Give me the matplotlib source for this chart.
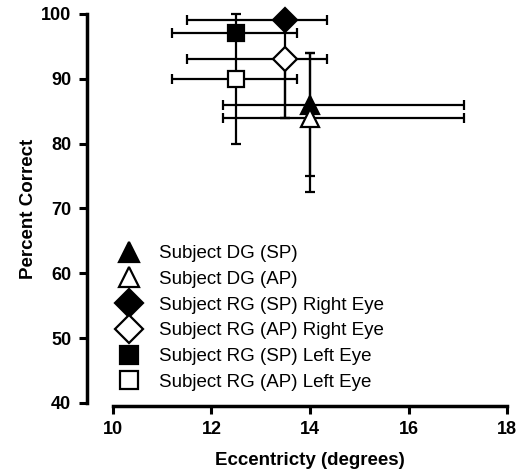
import matplotlib.pyplot as plt
from matplotlib.lines import Line2D

plt.rcParams['font.family'] = ['Liberation Sans', 'DejaVu Sans']

# data
labels = ["Subject DG (SP)", "Subject DG (AP)",
          "Subject RG (SP) Right Eye", "Subject RG (AP) Right Eye",
          "Subject RG (SP) Left Eye", "Subject RG (AP) Left Eye"]
markers = ["^", "^", "D", "D", "s", "s"]
filled = [True, False, True, False, True, False]

ecc = [14.0, 14.0, 13.5, 13.5, 12.5, 12.5]
ecc_lo = [12.23, 12.23, 11.5, 11.5, 11.2, 11.2]
ecc_hi = [17.13, 17.13, 14.35, 14.35, 13.73, 13.73]

pct = [86, 84, 99, 93, 97, 90]
pct_lo = [75, 72.5, 84, 84, 97, 80]
pct_hi = [94, 94, 99, 93, 97, 100]

sizes = {"^": 13.5, "D": 12.5, "s": 12}
leg_sizes = {"^": 15, "D": 14, "s": 13.5}

fig = plt.figure(figsize=(5.19, 4.74), dpi=100)
ax = fig.add_axes([0.2177, 0.1498, 0.7592, 0.8207])

handles = []
for i in range(len(labels)):
    xerr = [[ecc[i] - ecc_lo[i]], [ecc_hi[i] - ecc[i]]]
    yerr = [[pct[i] - pct_lo[i]], [pct_hi[i] - pct[i]]]
    ax.errorbar([ecc[i]], [pct[i]], xerr=xerr, yerr=yerr, fmt="none",
                ecolor="black", elinewidth=1.6, capsize=3.5, capthick=1.6,
                zorder=2, clip_on=False)
for i in range(len(labels)):
    fc = "black" if filled[i] else "white"
    ax.plot([ecc[i]], [pct[i]], marker=markers[i], ms=sizes[markers[i]],
            mfc=fc, mec="black", mew=1.6, ls="none", zorder=3, clip_on=False)
    handles.append(Line2D([], [], marker=markers[i], ms=leg_sizes[markers[i]],
                          mfc=fc, mec="black", mew=1.6, ls="none"))

ax.legend(handles, labels, loc="lower left", bbox_to_anchor=(-0.015, 0.002),
          frameon=False, fontsize=13.5, handletextpad=1.05, labelspacing=0.46,
          borderaxespad=0.2, handlelength=1.1)

ax.set_xlim(10, 18)
ax.set_ylim(40, 100)
ax.set_xticks([10, 12, 14, 16, 18])
ax.set_yticks([40, 50, 60, 70, 80, 90, 100])

ax.spines["top"].set_visible(False)
ax.spines["right"].set_visible(False)
ax.spines["left"].set_position(("outward", 19))
ax.spines["bottom"].set_position(("outward", 2))
ax.spines["left"].set_linewidth(2.5)
ax.spines["bottom"].set_linewidth(2.5)
ax.tick_params(width=2.2, length=6, labelsize=13, pad=5)
for t in ax.get_xticklabels() + ax.get_yticklabels():
    t.set_fontweight("bold")

ax.set_xlabel("Eccentricty (degrees)", fontsize=13.5, fontweight="bold", labelpad=10)
ax.set_ylabel("Percent Correct", fontsize=13.5, fontweight="bold", labelpad=3)

fig.savefig("out.png", dpi=100)
